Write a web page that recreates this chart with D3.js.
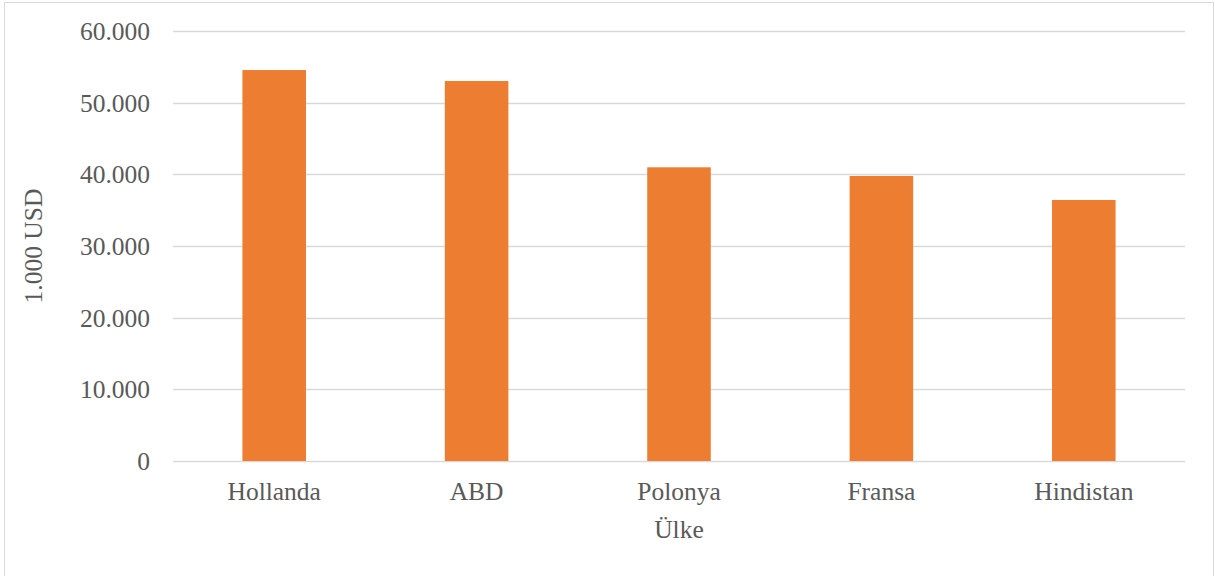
<!DOCTYPE html>
<html>
<head>
<meta charset="utf-8">
<script src="https://cdn.jsdelivr.net/npm/d3@7"></script>
<style>
  html, body { margin: 0; padding: 0; background: #fff; }
  svg { display: block; }
  text { font-family: "Liberation Serif", "Times New Roman", serif; fill: #595959; }
</style>
</head>
<body>
<svg id="chart" width="1215" height="576"></svg>
<script>
// Export values per country, thousand USD
const countries = ["Hollanda", "ABD", "Polonya", "Fransa", "Hindistan"];
const values = [54550, 53020, 40980, 39770, 36420];
const yTicks = [0, 10000, 20000, 30000, 40000, 50000, 60000];
const yTitle = "1.000 USD";
const xTitle = "Ülke";

const svg = d3.select("#chart");
const H = 576;
const plot = { left: 173, right: 1185, top: 31, bottom: 461 };
const serif = "'Liberation Serif', 'Times New Roman', serif";

// chart frame
svg.append("rect")
  .attr("x", 4.5).attr("y", 2.5)
  .attr("width", 1209).attr("height", H + 10)
  .attr("fill", "#fff").attr("stroke", "#d9d9d9").attr("stroke-width", 1);

const x = d3.scaleBand()
  .domain(countries)
  .range([plot.left, plot.right])
  .paddingInner(0.686)
  .paddingOuter(0.343);

const y = d3.scaleLinear()
  .domain([0, 60000])
  .range([plot.bottom, plot.top]);

const fmt = v => v === 0 ? "0" : d3.format(",")(v).replace(/,/g, ".");

// horizontal gridlines
svg.append("g")
  .selectAll("line")
  .data(yTicks)
  .join("line")
  .attr("x1", plot.left).attr("x2", plot.right)
  .attr("y1", d => Math.round(y(d)) + 0.5)
  .attr("y2", d => Math.round(y(d)) + 0.5)
  .attr("stroke", "#d9d9d9").attr("stroke-width", 1.5);

// y axis tick labels
const yAxis = d3.axisLeft(y).tickValues(yTicks).tickFormat(fmt).tickSize(0).tickPadding(0);
const gy = svg.append("g").attr("transform", `translate(150,0)`).call(yAxis);
gy.attr("font-family", serif);
gy.select(".domain").remove();
gy.selectAll("text")
  .attr("font-size", 25.5)
  .attr("fill", "#595959")
  .attr("dy", "0.33em");

// bars
svg.append("g")
  .selectAll("rect")
  .data(values)
  .join("rect")
  .attr("x", (d, i) => x(countries[i]))
  .attr("width", x.bandwidth())
  .attr("y", d => y(d))
  .attr("height", d => y(0) - y(d))
  .attr("fill", "#ed7d31");

// x axis category labels
const xAxis = d3.axisBottom(x).tickSize(0).tickPadding(0);
const gx = svg.append("g").attr("transform", `translate(0,${plot.bottom})`).call(xAxis);
gx.attr("font-family", serif);
gx.select(".domain").remove();
gx.selectAll("text")
  .attr("font-size", 25.5)
  .attr("fill", "#595959")
  .attr("y", 39)
  .attr("dy", 0);

// axis titles
svg.append("text")
  .attr("x", (plot.left + plot.right) / 2)
  .attr("y", 538)
  .attr("text-anchor", "middle")
  .attr("font-size", 25.5)
  .text(xTitle);

svg.append("text")
  .attr("transform", `translate(42,${(plot.top + plot.bottom) / 2}) rotate(-90)`)
  .attr("text-anchor", "middle")
  .attr("font-size", 25.5)
  .text(yTitle);
</script>
</body>
</html>
